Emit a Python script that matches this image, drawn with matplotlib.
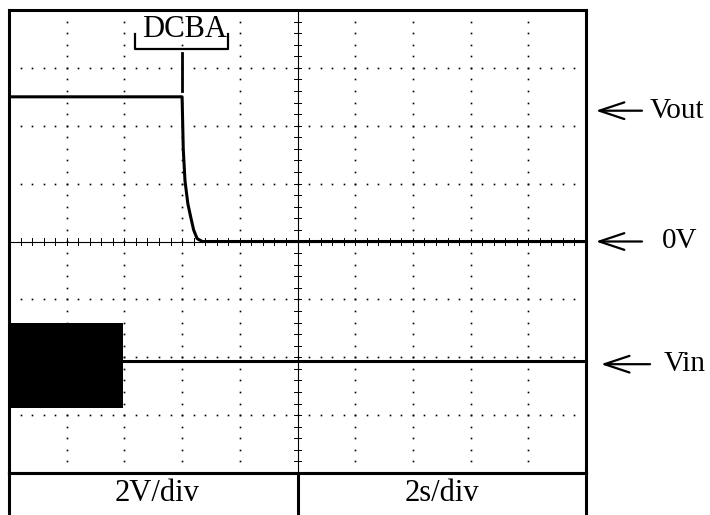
import numpy as np
import matplotlib
matplotlib.use("Agg")
import matplotlib.pyplot as plt

plt.rcParams['font.family'] = ['Liberation Serif', 'DejaVu Serif']

# 画面の目盛り (div 単位)
n_xdiv = 10
n_ydiv = 8

# Vout の波形 (x: div, y: div)
vout_t = [0, 3.0, 3.02, 3.05, 3.1, 3.15, 3.2, 3.26, 3.35, 10]
vout_v = [2.5, 2.5, 1.6, 1.05, 0.65, 0.42, 0.2, 0.05, 0.0, 0.0]

# Vin の波形 (バースト部分と基線)
vin_burst_t = [0, 1.98]
vin_hi = -1.40
vin_lo = -2.87
vin_base = -2.07

# DCBA のマーカー
marker_t = 3.0
marker_y = [2.6, 3.25]
bracket_t = [2.18, 3.80]
bracket_y = 3.33
bracket_top = 3.59

# 右側のラベル
labels = ["Vout", "0V", "Vin"]
label_y = [2.26, 0.0, -2.12]
arrow_x0 = [10.17, 10.17, 10.26]
arrow_x1 = [10.97, 10.97, 11.11]
text_x = [11.11, 11.32, 11.35]

fig = plt.figure(figsize=(7.1, 5.15), dpi=100)
ax = fig.add_axes([9 / 710, 42 / 515, 577 / 710, 463 / 515])
ax.set_xlim(0, n_xdiv)
ax.set_ylim(-n_ydiv / 2, n_ydiv / 2)
ax.set_xticks([])
ax.set_yticks([])
for s in ax.spines.values():
    s.set_linewidth(2.2)

# 点線のグリッド
sub = np.arange(0, n_xdiv + 0.01, 0.2)
for k in range(-3, 4):
    if k == 0:
        continue
    ax.plot(sub, np.full_like(sub, k), ls='none', marker='s', ms=1.2, mew=0, color='black')
suby = np.arange(-4, 4.01, 0.2)
for j in range(1, 10):
    if j == 5:
        continue
    ax.plot(np.full_like(suby, j), suby, ls='none', marker='s', ms=1.2, mew=0, color='black')

# 中心線と小目盛り
ax.axvline(5, color='black', lw=0.8)
ax.axhline(0, color='black', lw=0.8)
for yy in suby:
    ax.plot([4.94, 5.06], [yy, yy], color='black', lw=0.7)
for xx in sub:
    ax.plot([xx, xx], [-0.06, 0.06], color='black', lw=0.7)

# 波形
ax.plot(vout_t, vout_v, color='black', lw=2.2, solid_joinstyle='round', zorder=4)
ax.fill_between(vin_burst_t, vin_lo, vin_hi, color='black', lw=0, zorder=4)
ax.plot([vin_burst_t[1], n_xdiv], [vin_base, vin_base], color='black', lw=2.2, zorder=4)

# DCBA マーカー
ax.plot([marker_t, marker_t], marker_y, color='black', lw=2)
ax.plot([bracket_t[0], bracket_t[0], bracket_t[1], bracket_t[1]],
        [bracket_top, bracket_y, bracket_y, bracket_top], color='black', lw=1.6)
ax.text(3.05, 3.54, "DCBA", fontsize=22, ha='center', va='baseline')

# 右側の矢印とラベル
for lab, y, x0, x1, tx in zip(labels, label_y, arrow_x0, arrow_x1, text_x):
    ax.annotate('', xy=(x0, y), xytext=(x1, y), annotation_clip=False,
                arrowprops=dict(arrowstyle='->,head_length=0.9,head_width=0.3',
                                mutation_scale=20, lw=1.6, color='black',
                                shrinkA=0, shrinkB=0))
    ax.text(tx, y, lab, fontsize=21, ha='left', va='center')

# 下のラベル欄
ax2 = fig.add_axes([9 / 710, -10 / 515, 577 / 710, 52 / 515])
ax2.set_xlim(0, 1)
ax2.set_ylim(0, 1)
ax2.set_xticks([])
ax2.set_yticks([])
for s in ax2.spines.values():
    s.set_linewidth(2.2)
ax2.axvline(0.5, color='black', lw=2.2)
ax2.text(0.256, 0.6, "2V/div", fontsize=22, ha='center', va='center')
ax2.text(0.751, 0.6, "2s/div", fontsize=22, ha='center', va='center')

fig.savefig("out.png", dpi=100)
